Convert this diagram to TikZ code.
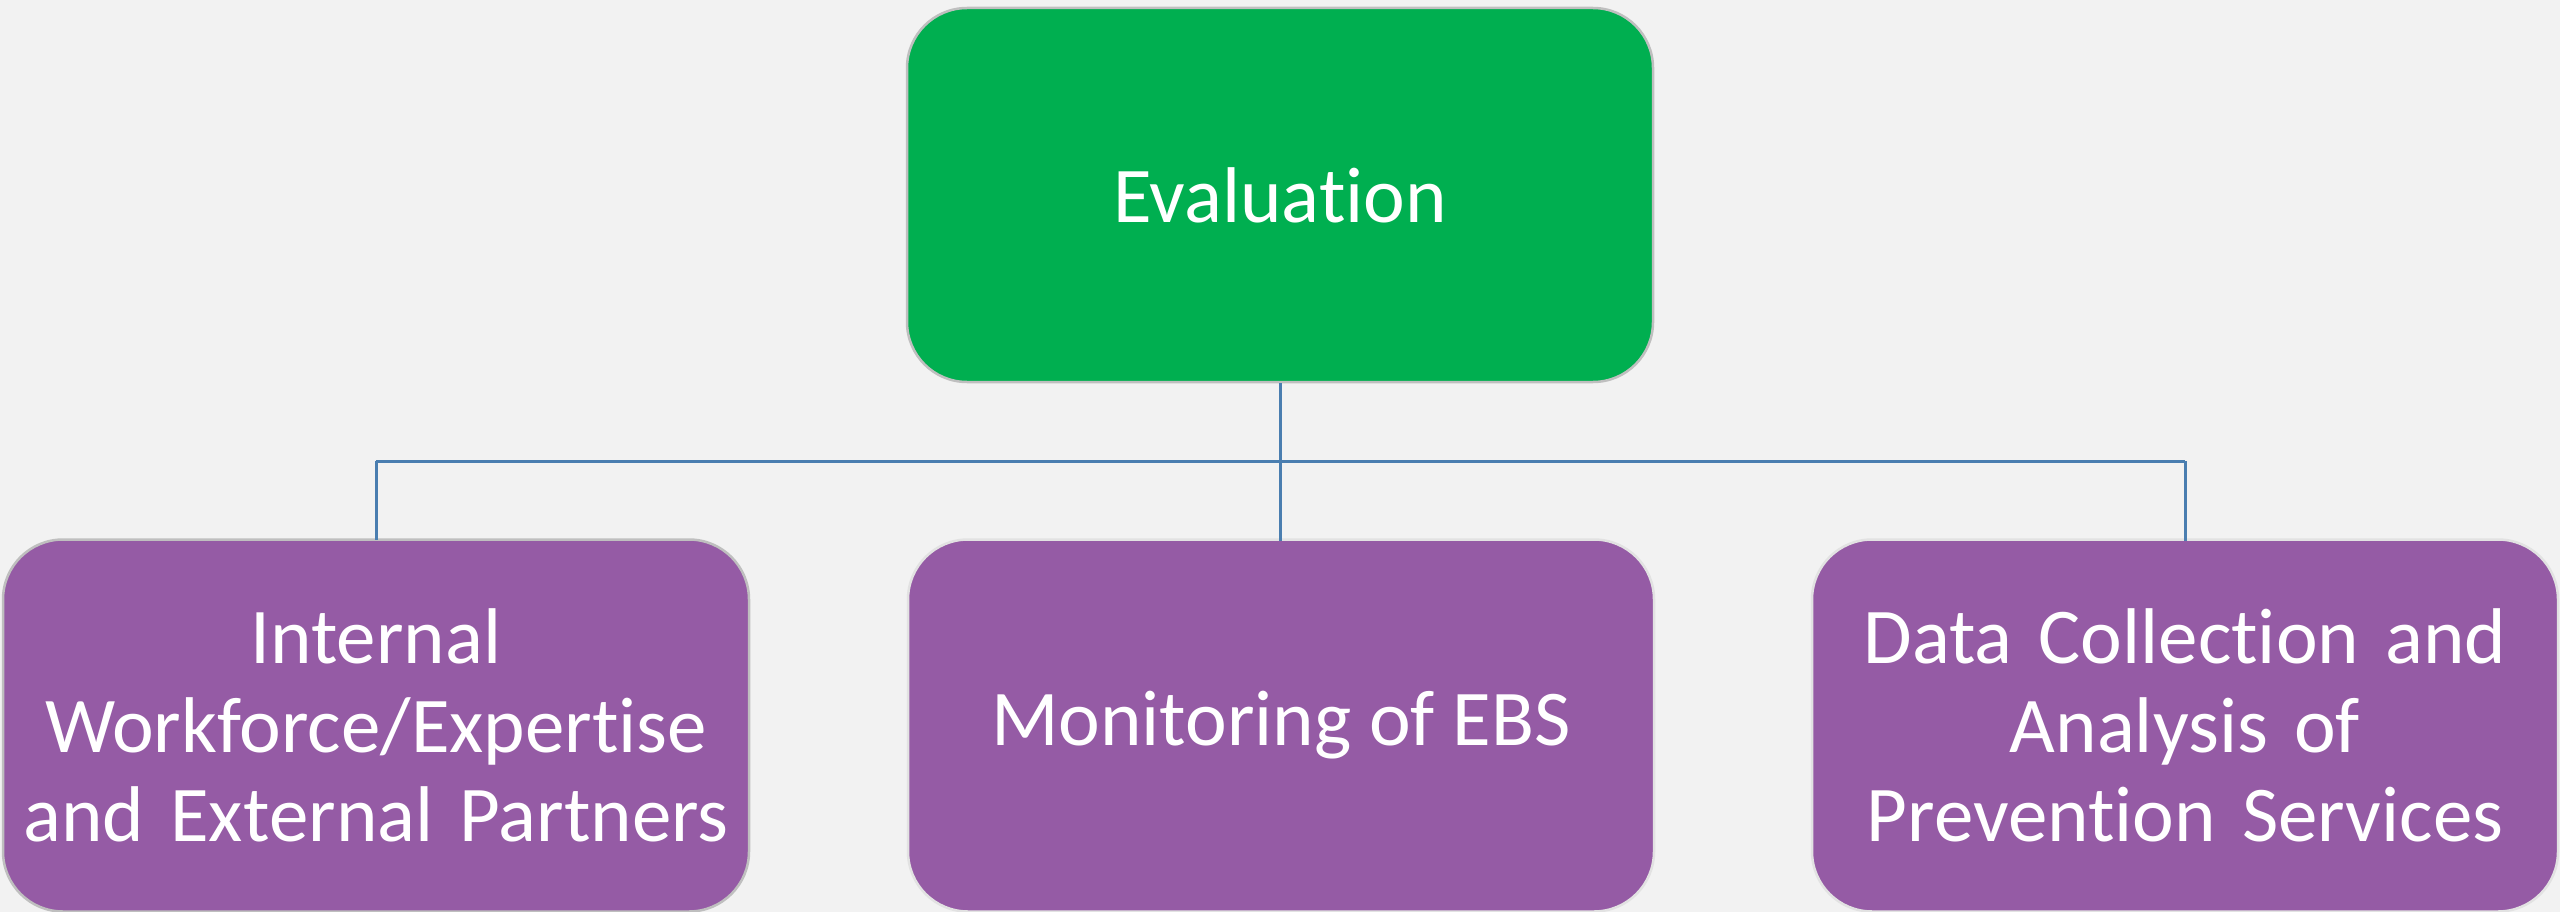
\documentclass[tikz,border=0pt]{standalone}
\usepackage{fontspec}
\setmainfont{Carlito}[Ligatures=NoCommon]
\definecolor{bg}{HTML}{F2F2F2}
\definecolor{topgreen}{HTML}{00AF50}
\definecolor{boxpurple}{HTML}{955BA5}
\definecolor{linkblue}{HTML}{4A7EB0}
\definecolor{rimgray}{HTML}{BFBFBF}
\definecolor{rimlight}{HTML}{E2E2E2}
\begin{document}
\begin{tikzpicture}[x=1pt,y=-1pt,
  box/.style={rounded corners=60pt, minimum width=746pt, minimum height=372pt,
    inner sep=0pt, text=white, align=center, line width=2.5pt,
    font=\fontsize{79}{89}\selectfont},
  topbox/.style={box, fill=topgreen, draw=rimgray, minimum height=374pt},
  leafbox/.style={box, fill=boxpurple, draw=rimlight},
  leafrim/.style={leafbox, draw=rimgray},
  link/.style={draw=linkblue, line width=3pt}
]
\fill[bg] (0,0) rectangle (2560,912);
\useasboundingbox (0,0) rectangle (2560,912);
\node[topbox] (eval) at (1280,195) {Evaluation};
\node[leafrim, text width=740pt] (left) at (376,725.5) {Internal\\Workforce/Expertise\\and External Partners};
\node[leafbox] (mid) at (1281,725.5) {Monitoring of EBS};
\node[leafbox, text width=740pt] (right) at (2185,725.5) {Data Collection and\\Analysis of\\Prevention Services};
\coordinate (hub) at (1280,461);
\draw[link] (eval.south) -- (hub);
\draw[link] (hub -| left.north) -- (hub -| right.north);
\draw[link] (hub -| left.north) -- ([yshift=-2pt]left.north);
\draw[link] (hub) -- ([yshift=-3pt]mid.north -| hub);
\draw[link] (hub -| right.north) -- ([yshift=-3pt]right.north);
\end{tikzpicture}
\end{document}
